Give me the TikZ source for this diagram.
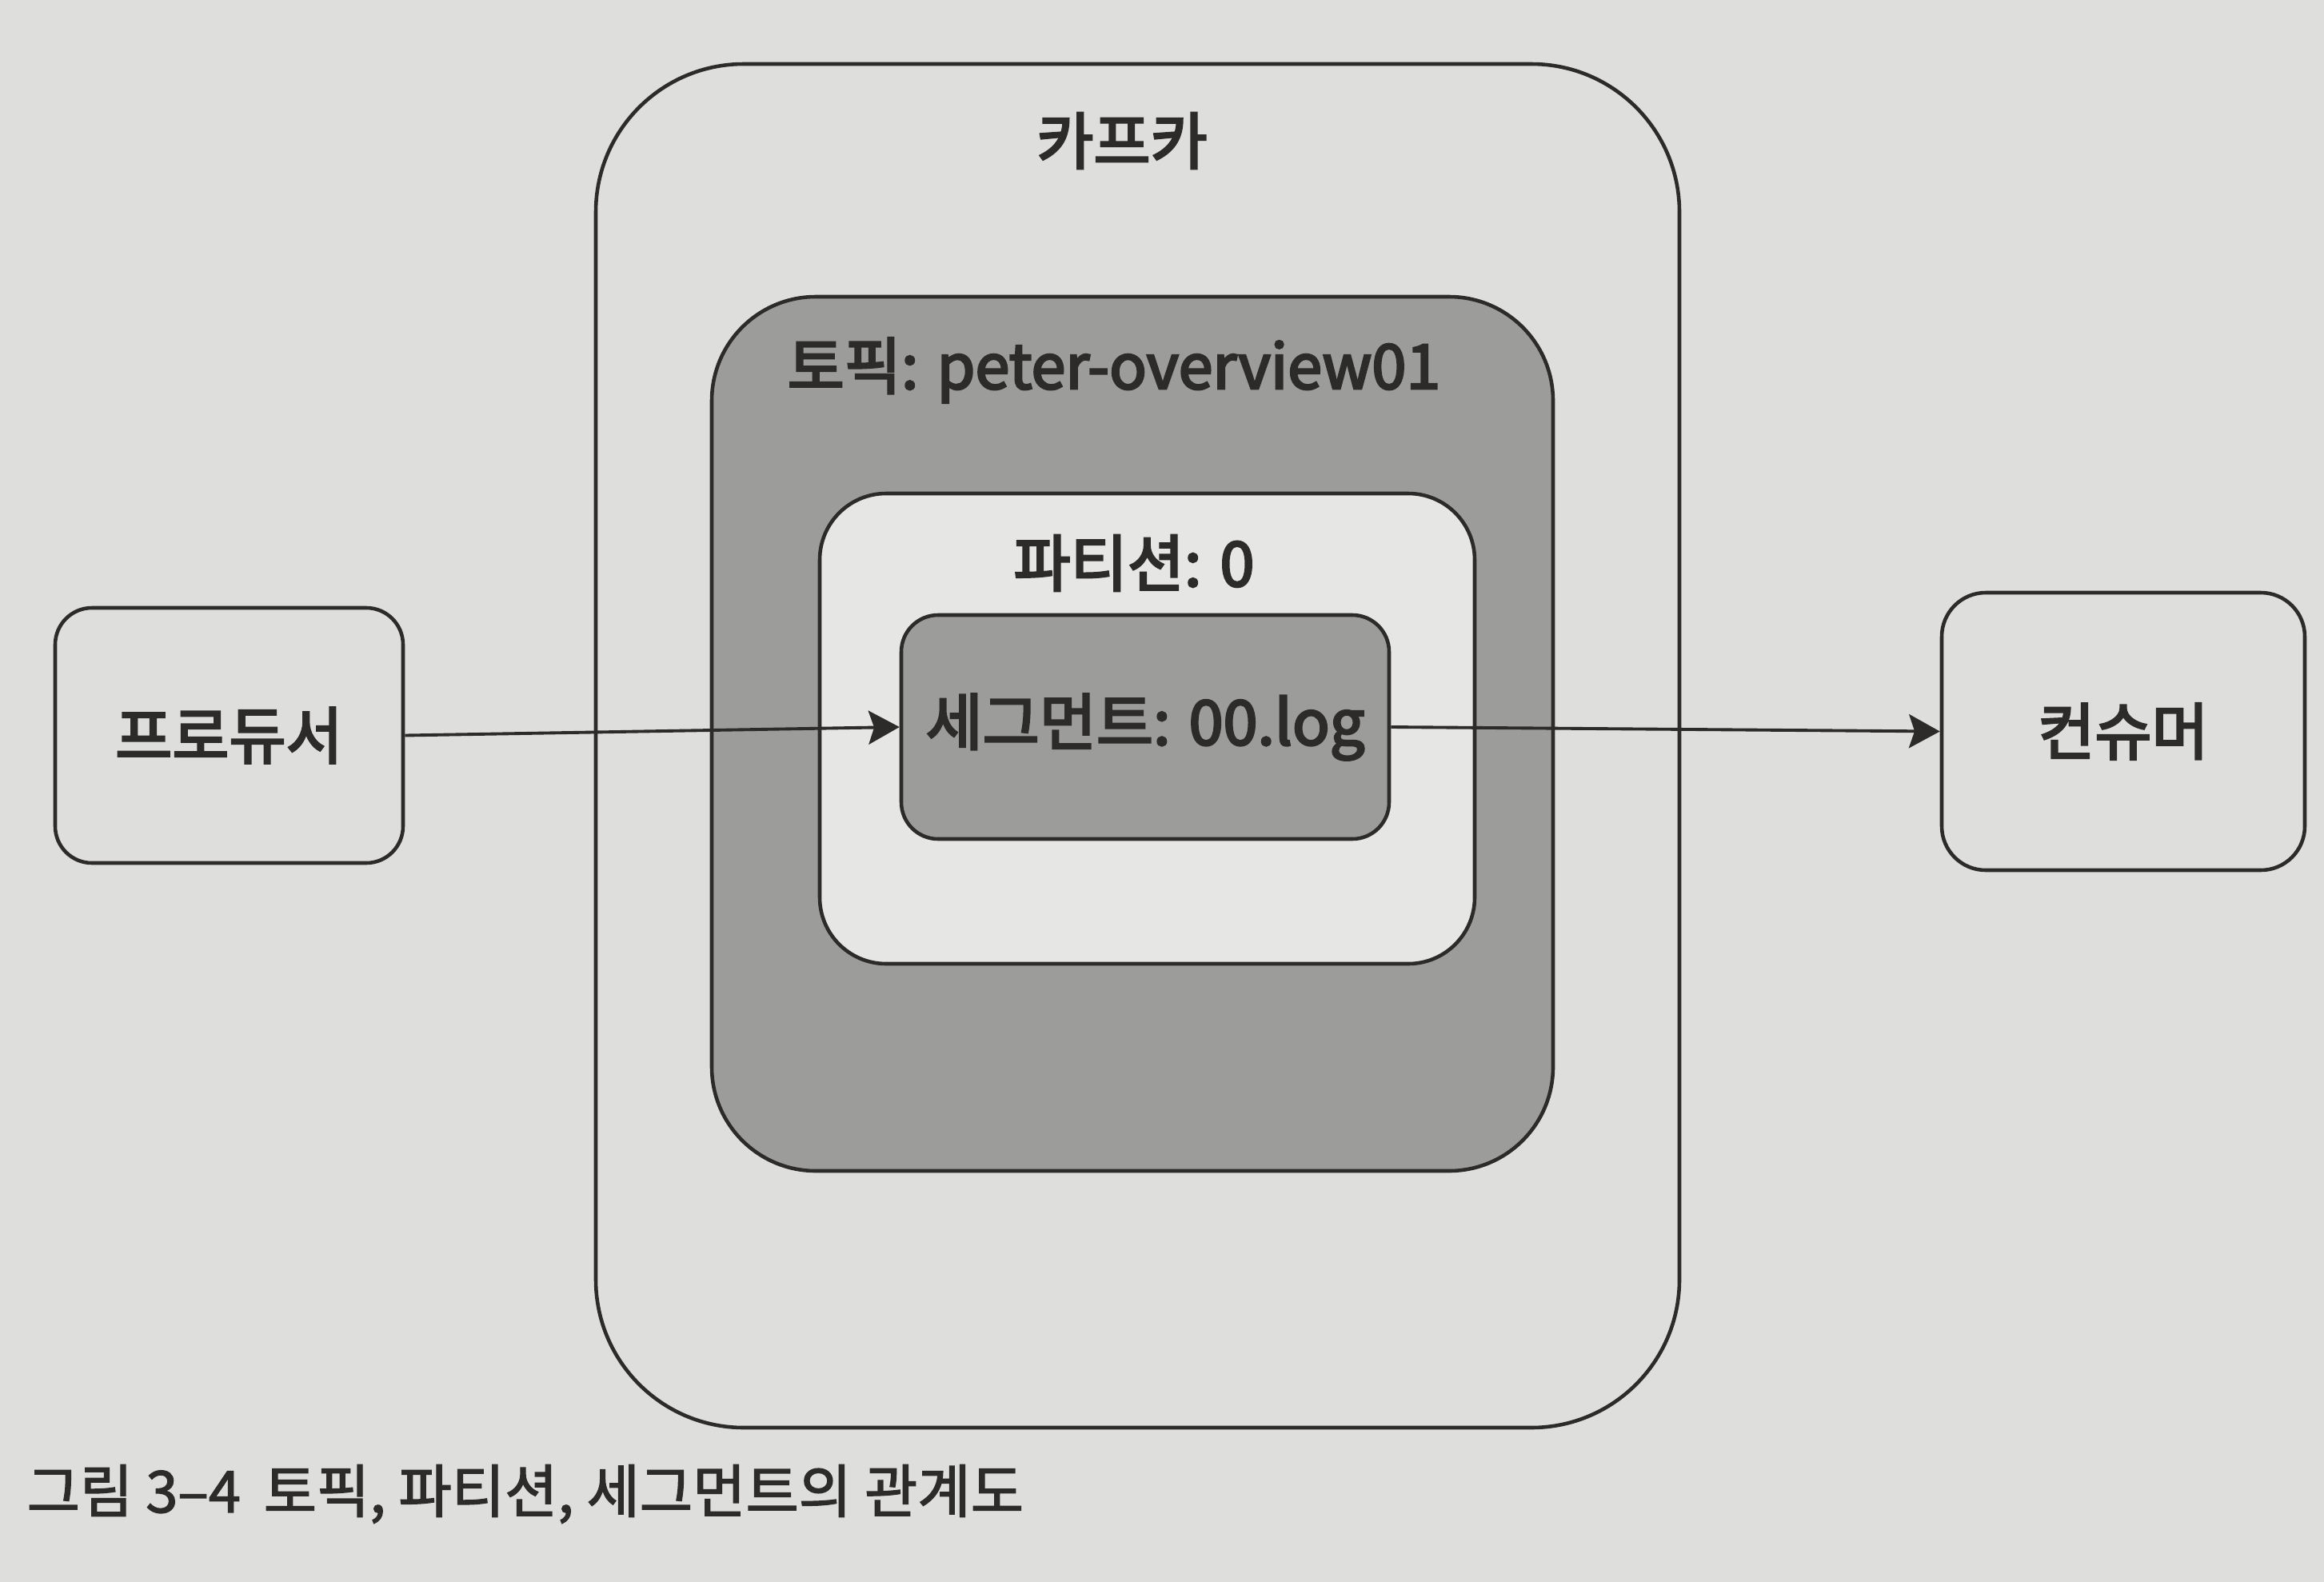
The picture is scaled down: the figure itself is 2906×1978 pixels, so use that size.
\documentclass[tikz,border=0pt]{standalone}
\usepackage{fontspec}
\setmainfont{Noto Sans CJK KR}
\newfontfamily\medfont[FakeBold=3.5]{Noto Sans CJK KR}
\newfontfamily\capfont[FakeBold=2]{Noto Sans CJK KR}
\usetikzlibrary{arrows.meta}
\definecolor{page}{RGB}{222,222,220}
\definecolor{midgrey}{RGB}{156,156,154}
\definecolor{inner}{RGB}{230,230,228}
\definecolor{ink}{RGB}{45,42,42}
\begin{document}
\begin{tikzpicture}[x=0.1mm,y=-0.1mm,
  box/.style={draw=ink, line width=1.3pt, inner sep=0pt},
  lbl/.style={text=ink, font=\medfont\fontsize{22}{26}\selectfont, inner sep=0pt},
  arr/.style={draw=ink, line width=1.1pt, -{Stealth[length=11pt,width=12pt,inset=2pt]}}]
\fill[page] (0,0) rectangle (2906,1978);
\useasboundingbox (0,0) rectangle (2906,1978);
% containers
\node[box, fill=page, rounded corners=18.5mm, minimum width=135.5mm, minimum height=170.5mm] (kafka) at (1422.5,932.5) {};
\node[box, fill=midgrey, rounded corners=13mm, minimum width=105.2mm, minimum height=109.3mm] (topic) at (1416,917.5) {};
\node[box, fill=inner, rounded corners=8.3mm, minimum width=81.9mm, minimum height=58.8mm] (partition) at (1434.5,911) {};
\node[box, fill=midgrey, rounded corners=4.6mm, minimum width=61mm, minimum height=28mm] (segment) at (1432,909) {};
\node[box, fill=page, rounded corners=4.6mm, minimum width=43.5mm, minimum height=31.9mm] (producer) at (286.5,919.5) {};
\node[box, fill=page, rounded corners=5.5mm, minimum width=45.4mm, minimum height=34.7mm] (consumer) at (2655,914.5) {};
% labels
\node[lbl] (kafkat) at (1403,176) {카프카};
\node[lbl] (topict) at (1393,463) {토픽: peter-overview01};
\node[lbl] (partt) at (1418,704) {파티션: 0};
\node[lbl] (segt) at (segment.center) {세그먼트: 00.log};
\node[lbl] (prodt) at (producer.center) {프로듀서};
\node[lbl] (const) at (consumer.center) {컨슈머};
% connectors
\draw[arr] (producer.east) -- (segment.west);
\draw[arr] (segment.east) -- (consumer.west);
% caption
\node[lbl, anchor=west, font=\capfont\fontsize{20.5}{24}\selectfont] (caption) at (33,1868) {그림 3–4\hspace{0.4em}토픽, 파티션, 세그먼트의 관계도};
\end{tikzpicture}
\end{document}
